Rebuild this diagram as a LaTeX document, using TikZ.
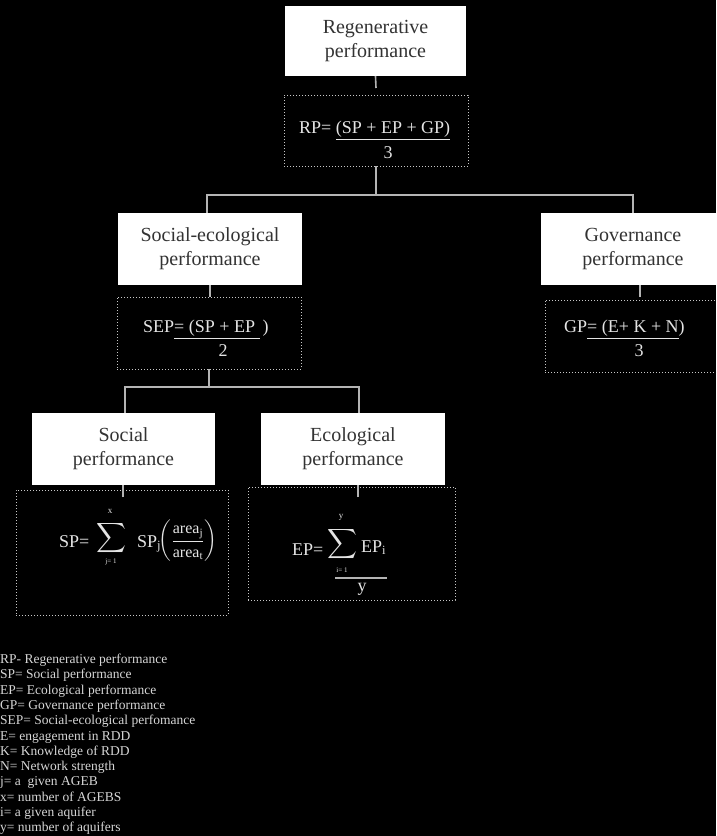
\documentclass[tikz,border=0pt]{standalone}
\usepackage{exscale}
\usepackage{fontspec}
\setmainfont{Liberation Serif}
\usetikzlibrary{calc}
\definecolor{boxtext}{HTML}{333333}
\definecolor{formtext}{HTML}{E4E4E4}
\definecolor{legtext}{HTML}{D6D6D6}
\definecolor{conn}{HTML}{B4B4B4}
\definecolor{dots}{HTML}{C8C8C8}
\begin{document}
\begin{tikzpicture}[x=1pt,y=-1pt,
  titlebox/.style={fill=white,draw=none,text=boxtext,align=center,inner sep=0pt,
    minimum width=184pt,minimum height=72pt,font=\fontsize{20}{24}\selectfont},
  dotbox/.style={draw=dots,line width=0.9pt,dash pattern=on 0.9pt off 2.1pt,inner sep=0pt},
  formula/.style={text=formtext,inner sep=0pt,font=\fontsize{18}{22}\selectfont},
  small/.style={text=formtext,inner sep=0pt,font=\fontsize{9}{9}\selectfont},
  tiny/.style={text=formtext,inner sep=0pt,font=\fontsize{7}{7}\selectfont},
  bigsum/.style={text=formtext,inner sep=0pt,font=\fontsize{20.5}{22}\selectfont},
  conline/.style={draw=conn,line width=1.1pt},
  tickline/.style={draw=conn,line width=1.6pt}]
\fill[black] (0,0) rectangle (716,836);
\useasboundingbox (0,0) rectangle (716,836);
\clip (0,0) rectangle (716,836);

% title boxes
\node[titlebox,minimum width=181pt,minimum height=70pt] (regen) at (375.5,41) {Regenerative\\performance};
\node[titlebox] (se) at (210,249) {Social-ecological\\performance};
\node[titlebox] (gov) at (633,249) {Governance\\performance};
\node[titlebox,minimum width=183pt] (soc) at (123.5,449) {Social\\performance};
\node[titlebox] (eco) at (353,449) {Ecological\\performance};

% dotted boxes
\node[dotbox,minimum width=184pt,minimum height=71pt] (rpbox) at (376,130.5) {};
\node[dotbox,minimum width=184pt,minimum height=72pt] (sepbox) at (209,333) {};
\node[dotbox,minimum width=184pt,minimum height=72pt] (gpbox) at (637,336) {};
\node[dotbox,minimum width=212pt,minimum height=125pt] (spbox) at (122,552.5) {};
\node[dotbox,minimum width=207pt,minimum height=113pt] (epbox) at (351.5,543.5) {};

% ticks
\coordinate (t1) at (376,88);
\draw[tickline] (regen.south) -- (t1);
\coordinate (t2) at (210,297);
\draw[tickline] (se.south) -- (t2);
\coordinate (t3) at (640,297);
\draw[tickline] (t3) -- (t3 |- gov.south);
\coordinate (t4) at (123,497);
\draw[tickline] (t4) -- (t4 |- soc.south);
\coordinate (t5) at (358,497);
\draw[tickline] (t5) -- (t5 |- eco.south);

% tree connectors
\coordinate (j1) at (376,195);
\draw[conline] (rpbox.south) -- (j1);
\draw[conline] ([xshift=-3pt]se.north) |- (j1) -| (gov.north);
\coordinate (j2) at (209,387);
\draw[conline] (sepbox.south) -- (j2);
\draw[conline] ([xshift=1.5pt]soc.north) |- (j2) -| ([xshift=6pt]eco.north);

% RP formula
\node[formula,anchor=base west] (rpf) at (299,133) {RP= \underline{(SP + EP + GP)}};
\node[formula,anchor=base] (rp3) at (388,158) {3};

% SEP formula
\node[formula,anchor=base west] (sepf) at (143,332) {SEP\underline{= (SP + EP }\,)};
\node[formula,anchor=base] (sep2) at (223,356) {2};

% GP formula
\node[formula,anchor=base west] (gpf) at (564,332) {GP\underline{= (E+ K + N})};
\node[formula,anchor=base] (gp3) at (639,356) {3};

% SP formula
\node[formula,anchor=base west] (spl) at (59,547) {SP=};
\node[bigsum] (sps) at (111,538) {$\displaystyle\sum$};
\node[small] (spx) at (110,511) {x};
\node[tiny] (spj1) at (111,562) {j= 1};
\node[formula,anchor=base west] (spj) at (137,547) {SP$_{\mathrm{j}}$};
\node[formula,font=\fontsize{16}{20}\selectfont] (spfr) at (188,541)
  {$\left(\displaystyle\frac{\mathrm{area}_{\mathrm{j}}}{\mathrm{area}_{\mathrm{t}}}\right)$};

% EP formula
\node[formula,anchor=base west] (epl) at (292,555) {EP=};
\node[bigsum] (eps) at (342,544) {$\displaystyle\sum$};
\node[small] (epy0) at (341,517) {y};
\node[tiny] (epi1) at (342,570) {i= 1};
\node[formula,anchor=base west] (epi) at (361,552) {EP$_{\mathrm{i}}$};
\draw[draw=conn,line width=1.5pt] (335,578) -- (387,578);
\node[formula,anchor=base] (epy) at (362,591) {y};

% legend
\node[anchor=north west,inner sep=0pt,align=left,text=legtext,
  font=\fontsize{13.5}{15.3}\selectfont] (legend) at (0,653.8)
{RP- Regenerative performance\\
SP= Social performance\\
EP= Ecological performance\\
GP= Governance performance\\
SEP= Social-ecological perfomance\\
E= engagement in RDD\\
K= Knowledge of RDD\\
N= Network strength\\
j= a \ given AGEB\\
x= number of AGEBS\\
i= a given aquifer\\
y= number of aquifers};
\end{tikzpicture}
\end{document}
